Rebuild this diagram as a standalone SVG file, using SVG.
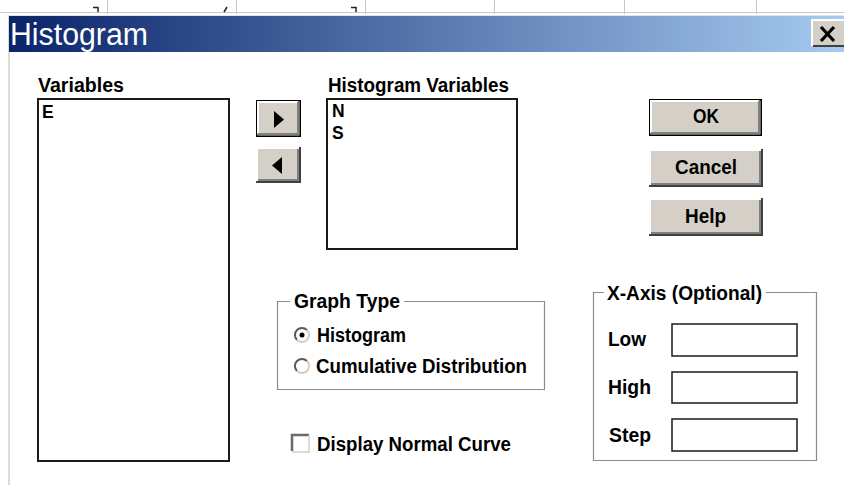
<svg xmlns="http://www.w3.org/2000/svg" width="844" height="485" viewBox="0 0 844 485">
  <defs>
    <linearGradient id="titleGrad" x1="0" y1="0" x2="1" y2="0">
      <stop offset="0" stop-color="#0a246a"/>
      <stop offset="1" stop-color="#a6caf0"/>
    </linearGradient>
    <style>
      .lbl { font-family: "Liberation Sans", Arial, sans-serif; font-weight: bold; font-size: 19.5px; fill: #000; }
      .item { font-family: "Liberation Sans", Arial, sans-serif; font-weight: bold; font-size: 17.5px; fill: #000; }
      .list { fill: #fff; stroke: #1a1a1a; stroke-width: 2; }
      .field { fill: #fff; stroke: #1a1a1a; stroke-width: 1.5; }
      .face { fill: #d4d0c8; }
      .hi { stroke: #fff; stroke-width: 2; fill: none; }
      .sh { stroke: #808080; stroke-width: 2; fill: none; }
      .dk { stroke: #404040; stroke-width: 2; fill: none; }
      .grp { fill: none; stroke: #8c8c8c; stroke-width: 1.2; }
      .grid { stroke: #c8c8c8; stroke-width: 1; }
      .rdk { stroke: #5a5a5a; stroke-width: 2; fill: none; }
      .rlt { stroke: #d4d0c8; stroke-width: 2; fill: none; }
    </style>
  </defs>

  <rect x="0" y="0" width="844" height="485" fill="#fff"/>

  <!-- worksheet strip behind the dialog -->
  <g id="sheet-strip">
    <line class="grid" x1="0" y1="12.5" x2="844" y2="12.5"/>
    <line class="grid" x1="107.5" y1="0" x2="107.5" y2="14"/>
    <line class="grid" x1="236.5" y1="0" x2="236.5" y2="14"/>
    <line class="grid" x1="365.5" y1="0" x2="365.5" y2="14"/>
    <line class="grid" x1="494.5" y1="0" x2="494.5" y2="14"/>
    <line class="grid" x1="624.5" y1="0" x2="624.5" y2="14"/>
    <line class="grid" x1="756.5" y1="0" x2="756.5" y2="14"/>
    <path d="M93 7.5 H98 V12" stroke="#222" stroke-width="1.5" fill="none"/>
    <path d="M224 12 L227 7" stroke="#222" stroke-width="1.5" fill="none"/>
    <path d="M351 7.5 H356 V12" stroke="#222" stroke-width="1.5" fill="none"/>
  </g>

  <!-- dialog frame -->
  <g id="frame">
    <rect x="7" y="15" width="837" height="2" fill="#e8e6e2"/>
    <rect x="8" y="15" width="2" height="470" fill="#dedbd5"/>
  </g>

  <!-- title bar -->
  <g id="title-bar">
    <rect x="9" y="16" width="835" height="36" fill="url(#titleGrad)"/>
    <text x="10" y="45" font-family="'Liberation Sans', Arial, sans-serif" font-size="31" fill="#fff" textLength="138" lengthAdjust="spacingAndGlyphs">Histogram</text>
    <g id="close-btn">
      <rect x="812" y="20" width="34" height="27" class="face"/>
      <path d="M812 46 V20 H846" class="hi"/>
      <path d="M813 46 H846" class="dk"/>
      <path d="M821 27 L834 41 M834 27 L821 41" stroke="#000" stroke-width="3.2"/>
    </g>
  </g>

  <!-- source variables list -->
  <g id="variables">
    <text class="lbl" x="38" y="92" textLength="86" lengthAdjust="spacingAndGlyphs">Variables</text>
    <rect class="list" x="38" y="99" width="191" height="362"/>
    <text class="item" x="42" y="118">E</text>
  </g>

  <!-- move buttons -->
  <g id="btn-add">
    <rect x="256" y="100" width="45" height="37" fill="#000"/>
    <rect x="257.5" y="101.5" width="42" height="34" class="face"/>
    <path d="M258 134 V102 H298" class="hi"/>
    <path d="M258 134 H298 V102" class="sh"/>
    <polygon points="274,111 284,119.5 274,128" fill="#000"/>
  </g>
  <g id="btn-remove">
    <rect x="256" y="147" width="45" height="36" class="face"/>
    <path d="M257 182 V148 H300" class="hi"/>
    <path d="M256 182 H300 V147" class="dk"/>
    <path d="M258 180 H298 V149" class="sh"/>
    <polygon points="282,157 272,165.5 282,174" fill="#000"/>
  </g>

  <!-- selected variables list -->
  <g id="histogram-variables">
    <text class="lbl" x="328" y="92" textLength="181" lengthAdjust="spacingAndGlyphs">Histogram Variables</text>
    <rect class="list" x="327" y="99" width="190" height="150"/>
    <text class="item" x="332" y="117">N</text>
    <text class="item" x="332" y="139">S</text>
  </g>

  <!-- command buttons -->
  <g id="btn-ok">
    <rect x="649" y="99" width="113" height="37" fill="#000"/>
    <rect x="650.5" y="100.5" width="110" height="34" class="face"/>
    <path d="M651 133 V101 H759" class="hi"/>
    <path d="M651 133 H759 V101" class="sh"/>
    <text class="lbl" x="693" y="123" textLength="26" lengthAdjust="spacingAndGlyphs">OK</text>
  </g>
  <g id="btn-cancel">
    <rect x="649" y="149" width="114" height="38" class="face"/>
    <path d="M650 186 V150 H762" class="hi"/>
    <path d="M649 186 H762 V149" class="dk"/>
    <path d="M651 184 H760 V151" class="sh"/>
    <text class="lbl" x="675" y="174" textLength="62" lengthAdjust="spacingAndGlyphs">Cancel</text>
  </g>
  <g id="btn-help">
    <rect x="649" y="198" width="114" height="38" class="face"/>
    <path d="M650 235 V199 H762" class="hi"/>
    <path d="M649 235 H762 V198" class="dk"/>
    <path d="M651 233 H760 V200" class="sh"/>
    <text class="lbl" x="685" y="223" textLength="41" lengthAdjust="spacingAndGlyphs">Help</text>
  </g>

  <!-- graph type group -->
  <g id="graph-type">
    <path class="grp" d="M290 301.5 H277.5 V389.5 H544.5 V301.5 H404"/>
    <text class="lbl" x="294" y="308" textLength="106" lengthAdjust="spacingAndGlyphs">Graph Type</text>
    <g id="radio-histogram">
      <circle cx="302" cy="335" r="7" fill="#fff"/>
      <path class="rdk" d="M297 340 A7 7 0 0 1 307 330"/>
      <path class="rlt" d="M307 330 A7 7 0 0 1 297 340"/>
      <circle cx="302" cy="335" r="2.5" fill="#000"/>
      <text class="lbl" x="317" y="342" textLength="89" lengthAdjust="spacingAndGlyphs">Histogram</text>
    </g>
    <g id="radio-cumulative">
      <circle cx="302" cy="366" r="7" fill="#fff"/>
      <path class="rdk" d="M297 371 A7 7 0 0 1 307 361"/>
      <path class="rlt" d="M307 361 A7 7 0 0 1 297 371"/>
      <text class="lbl" x="316" y="373" textLength="211" lengthAdjust="spacingAndGlyphs">Cumulative Distribution</text>
    </g>
  </g>

  <!-- normal curve option -->
  <g id="normal-curve">
    <rect x="291" y="434" width="18" height="18" fill="#fff"/>
    <path d="M292 451 V435 H309" stroke="#6a6a6a" stroke-width="2.5" fill="none"/>
    <path d="M292 452 H309 V435" stroke="#d4d0c8" stroke-width="1.5" fill="none"/>
    <text class="lbl" x="317" y="451" textLength="194" lengthAdjust="spacingAndGlyphs">Display Normal Curve</text>
  </g>

  <!-- x-axis range group -->
  <g id="x-axis">
    <path class="grp" d="M604 292.5 H593.5 V460.5 H816.5 V292.5 H766"/>
    <text class="lbl" x="607" y="300" textLength="155" lengthAdjust="spacingAndGlyphs">X-Axis (Optional)</text>
    <text class="lbl" x="608" y="346" textLength="38" lengthAdjust="spacingAndGlyphs">Low</text>
    <rect class="field" x="672" y="324" width="125" height="32"/>
    <text class="lbl" x="608" y="394" textLength="43" lengthAdjust="spacingAndGlyphs">High</text>
    <rect class="field" x="672" y="372" width="125" height="31"/>
    <text class="lbl" x="609" y="442" textLength="42" lengthAdjust="spacingAndGlyphs">Step</text>
    <rect class="field" x="672" y="419" width="125" height="32"/>
  </g>
</svg>
